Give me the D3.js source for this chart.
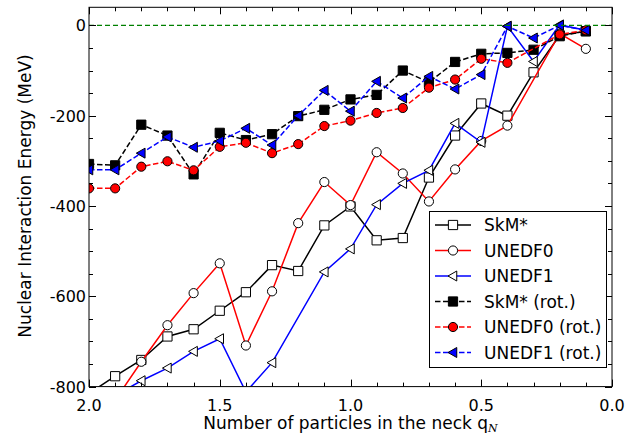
<!DOCTYPE html>
<meta charset="utf-8">
<style>
    body { margin: 0; background: #fff; }
    svg { display: block; }
    text { font-family: "DejaVu Sans", sans-serif; fill: #000; }
    .tick-label { font-size: 16px; }
    .axis-label { font-size: 17px; }
    .legend text { font-size: 17px; }
</style>
<body>
<script src="https://d3js.org/d3.v7.min.js"></script>
<script>

    // number of particles in the neck
    var qN = [2.0, 1.9, 1.8, 1.7, 1.6, 1.5, 1.4, 1.3, 1.2, 1.1, 1.0,
              0.9, 0.8, 0.7, 0.6, 0.5, 0.4, 0.3, 0.2, 0.1];

    var skm    = [-815, -777, -741, -689, -673, -632, -591, -531, -544, -443, -401,
                  -476, -471, -337, -244, -173, -200, -104, -22, -13];
    var unedf0 = [-870, -830, -745, -664, -593, -527, -709, -589, -438, -347, -398,
                  -281, -328, -390, -319, -256, -222, null, -18, -52];
    var unedf1 = [-850, -820, -787, -759, -722, -694, -812, -747, null, -546, -495,
                  -397, -350, -321, -217, -259, -2, -80, 1, -11];

    var skmRot    = [-307, -310, -220, -244, -330, -238, -254, -241, -201, -187, -164,
                     -154, -100, -126, -81, -63, -61, -54, -24, -13];
    var unedf0Rot = [-361, -361, -313, -301, -321, -269, -260, -283, -263, -223, -211,
                     -194, -183, -138, -120, -74, -83, null, -20, -11];
    var unedf1Rot = [-320, -320, -283, -247, -270, -256, -228, -265, -200, -144, -190,
                     -124, -161, -113, -141, -109, -2, -28, 0, -11];

    var yTicks = [0, -200, -400, -600, -800];
    var xTicks = [2.0, 1.5, 1.0, 0.5, 0.0];

    var series = [
        {name: "SkM*",           values: skm,       color: "#000000", fill: "#ffffff", marker: "square",   dashed: false},
        {name: "UNEDF0",         values: unedf0,    color: "#ff0000", fill: "#ffffff", marker: "circle",   dashed: false},
        {name: "UNEDF1",         values: unedf1,    color: "#0000ff", fill: "#ffffff", marker: "triangle", dashed: false},
        {name: "SkM* (rot.)",    values: skmRot,    color: "#000000", fill: "#000000", marker: "square",   dashed: true},
        {name: "UNEDF0 (rot.)",  values: unedf0Rot, color: "#ff0000", fill: "#ff0000", marker: "circle",   dashed: true},
        {name: "UNEDF1 (rot.)",  values: unedf1Rot, color: "#0000ff", fill: "#0000ff", marker: "triangle", dashed: true}
    ];

    var width = 636, height = 434;
    var plot = {left: 89, right: 612, top: 7.3, bottom: 386.6};

    var x = d3.scaleLinear().domain([2, 0]).range([plot.left, plot.right]);
    var y = d3.scaleLinear().domain([-800, 40]).range([plot.bottom, plot.top]);

    var svg = d3.select("body").append("svg")
            .attr("width", width)
            .attr("height", height);

    svg.append("rect").attr("width", width).attr("height", height).attr("fill", "#fff");

    svg.append("defs").append("clipPath")
            .attr("id", "plotClip")
            .append("rect")
            .attr("x", plot.left)
            .attr("y", plot.top)
            .attr("width", plot.right - plot.left)
            .attr("height", plot.bottom - plot.top);

    // marker shapes
    var symbols = {
        square: d3.symbol().type(d3.symbolSquare).size(85),
        circle: d3.symbol().type(d3.symbolCircle).size(66),
        triangle: function() {
            var r = 5;
            return "M" + (-r) + ",0L" + (r * 0.75) + "," + (-r) + "L" + (r * 0.75) + "," + r + "Z";
        }
    };

    function drawMarker(g, s, cx, cy) {
        var p = s.marker === "triangle" ? symbols.triangle() : symbols[s.marker]();
        g.append("path")
                .attr("d", p)
                .attr("transform", "translate(" + cx + "," + cy + ")")
                .attr("fill", s.fill)
                .attr("stroke", "#000")
                .attr("stroke-width", 1);
    }

    var plotArea = svg.append("g").attr("clip-path", "url(#plotClip)");

    var line = d3.line()
            .x(function(d) { return x(d[0]); })
            .y(function(d) { return y(d[1]); });

    series.forEach(function(s) {
        var pts = qN.map(function(q, i) { return [q, s.values[i]]; })
                .filter(function(d) { return d[1] !== null; });
        var g = plotArea.append("g");
        g.append("path")
                .datum(pts)
                .attr("d", line)
                .attr("fill", "none")
                .attr("stroke", s.color)
                .attr("stroke-width", 1.5)
                .attr("stroke-dasharray", s.dashed ? "5.5,2.5" : null);
        pts.forEach(function(d) { drawMarker(g, s, x(d[0]), y(d[1])); });
    });

    // zero line
    plotArea.append("line")
            .attr("x1", x(2)).attr("x2", x(0))
            .attr("y1", y(0)).attr("y2", y(0))
            .attr("stroke", "#008000")
            .attr("stroke-width", 1.2)
            .attr("stroke-dasharray", "5,3");

    // frame and inward ticks
    var axes = svg.append("g");
    axes.append("rect")
            .attr("x", plot.left).attr("y", plot.top)
            .attr("width", plot.right - plot.left)
            .attr("height", plot.bottom - plot.top)
            .attr("fill", "none")
            .attr("stroke", "#000")
            .attr("stroke-width", 1);

    var xMinor = d3.range(0, 21).map(function(i) { return i / 10; });
    var yMinor = d3.range(-800, 41, 50);

    xMinor.forEach(function(v) {
        var major = Math.abs(v * 2 - Math.round(v * 2)) < 1e-6;
        var len = major ? 7 : 4;
        var px = Math.round(x(v)) + 0.5;
        axes.append("line").attr("x1", px).attr("x2", px)
                .attr("y1", plot.bottom).attr("y2", plot.bottom - len)
                .attr("stroke", "#000");
        axes.append("line").attr("x1", px).attr("x2", px)
                .attr("y1", plot.top).attr("y2", plot.top + len)
                .attr("stroke", "#000");
    });

    yMinor.forEach(function(v) {
        var major = v % 200 === 0;
        var len = major ? 7 : 4;
        var py = Math.round(y(v)) + 0.5;
        axes.append("line").attr("x1", plot.left).attr("x2", plot.left + len)
                .attr("y1", py).attr("y2", py)
                .attr("stroke", "#000");
        axes.append("line").attr("x1", plot.right).attr("x2", plot.right - len)
                .attr("y1", py).attr("y2", py)
                .attr("stroke", "#000");
    });

    // tick labels
    xTicks.forEach(function(v) {
        axes.append("text")
                .attr("class", "tick-label")
                .attr("x", x(v))
                .attr("y", 411)
                .attr("text-anchor", "middle")
                .text(v.toFixed(1));
    });

    yTicks.forEach(function(v) {
        axes.append("text")
                .attr("class", "tick-label")
                .attr("x", plot.left - 3)
                .attr("y", y(v) + 6)
                .attr("text-anchor", "end")
                .text(String(v));
    });

    // axis labels
    var xl = svg.append("text")
            .attr("class", "axis-label")
            .attr("x", (plot.left + plot.right) / 2)
            .attr("y", 428.5)
            .attr("text-anchor", "middle");
    xl.append("tspan").text("Number of particles in the neck q");
    xl.append("tspan")
            .attr("font-family", "DejaVu Serif")
            .attr("font-style", "italic")
            .attr("font-size", "11px")
            .attr("dy", 3)
            .text("N");

    svg.append("text")
            .attr("class", "axis-label")
            .attr("transform", "translate(30.5,196) rotate(-90)")
            .attr("text-anchor", "middle")
            .text("Nuclear Interaction Energy (MeV)");

    // legend
    var legend = svg.append("g").attr("class", "legend");
    legend.append("rect")
            .attr("x", 429.5).attr("y", 211.5)
            .attr("width", 177).attr("height", 156)
            .attr("fill", "#fff")
            .attr("stroke", "#000")
            .attr("stroke-width", 1);

    series.forEach(function(s, i) {
        var ly = 225 + i * 25.5;
        legend.append("line")
                .attr("x1", 435).attr("x2", 471)
                .attr("y1", ly).attr("y2", ly)
                .attr("stroke", s.color)
                .attr("stroke-width", 1.5)
                .attr("stroke-dasharray", s.dashed ? "5.5,2.5" : null);
        drawMarker(legend, s, 453, ly);
        legend.append("text")
                .attr("x", 484)
                .attr("y", ly + 6)
                .text(s.name);
    });

</script>
</body>
